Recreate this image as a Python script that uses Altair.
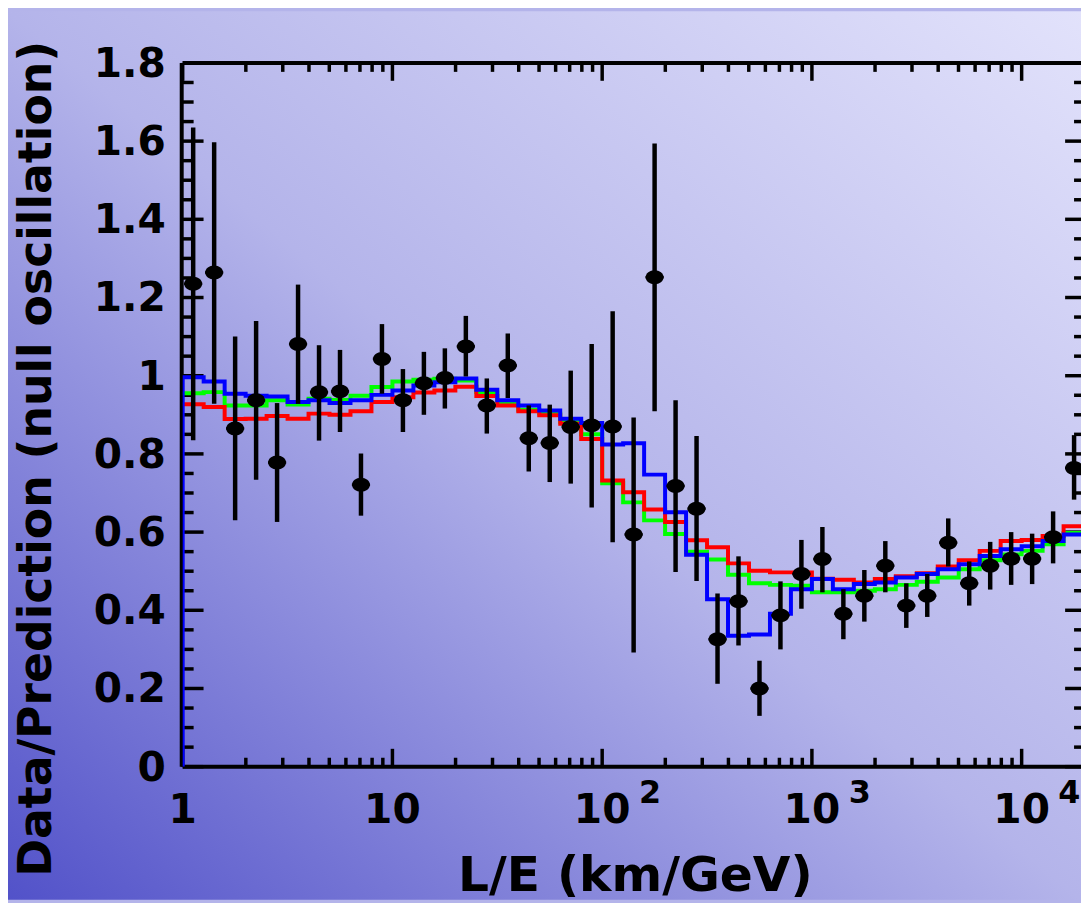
import altair as alt
import pandas as pd

# ---------------- data ----------------
bin_edges = [1, 1.2589, 1.5849, 1.9953, 2.5119, 3.1623, 3.9811, 5.0119, 6.3096, 7.9433,
             10, 12.589, 15.849, 19.953, 25.119, 31.623, 39.811, 50.119, 63.096, 79.433,
             100, 125.89, 158.49, 199.53, 251.19, 316.23, 398.11, 501.19, 630.96, 794.33,
             1000, 1258.9, 1584.9, 1995.3, 2511.9, 3162.3, 3981.1, 5011.9, 6309.6, 7943.3,
             10000, 12589, 15849, 19953]

data_val = [1.235, 1.264, 0.865, 0.937, 0.778, 1.081, 0.958, 0.960, 0.721, 1.043,
            0.937, 0.981, 0.994, 1.075, 0.924, 1.026, 0.840, 0.828, 0.869, 0.873,
            0.870, 0.594, 1.252, 0.718, 0.660, 0.326, 0.423, 0.200, 0.387, 0.493,
            0.531, 0.391, 0.437, 0.514, 0.412, 0.437, 0.573, 0.469, 0.514, 0.532,
            0.532, 0.587, 0.764]
err_lo = [0.835, 0.928, 0.630, 0.734, 0.626, 0.928, 0.834, 0.856, 0.642, 0.954,
          0.856, 0.900, 0.916, 0.998, 0.852, 0.943, 0.755, 0.728, 0.724, 0.663,
          0.574, 0.292, 0.909, 0.498, 0.475, 0.212, 0.310, 0.130, 0.300, 0.404,
          0.446, 0.326, 0.371, 0.446, 0.355, 0.383, 0.512, 0.412, 0.453, 0.465,
          0.467, 0.520, 0.683]
err_hi = [1.635, 1.597, 1.100, 1.140, 0.930, 1.233, 1.078, 1.066, 0.801, 1.132,
          1.017, 1.061, 1.070, 1.153, 0.993, 1.108, 0.924, 0.926, 1.013, 1.081,
          1.165, 0.893, 1.594, 0.937, 0.846, 0.443, 0.538, 0.271, 0.474, 0.580,
          0.613, 0.454, 0.503, 0.577, 0.469, 0.493, 0.635, 0.525, 0.575, 0.600,
          0.596, 0.653, 0.848]

green_vals = [0.955, 0.958, 0.924, 0.924, 0.937, 0.926, 0.941, 0.938, 0.949, 0.971,
              0.985, 0.990, 0.992, 0.988, 0.958, 0.930, 0.913, 0.903, 0.882, 0.850,
              0.725, 0.676, 0.630, 0.595, 0.550, 0.530, 0.491, 0.469, 0.465, 0.463,
              0.446, 0.446, 0.450, 0.454, 0.465, 0.473, 0.484, 0.505, 0.528, 0.543,
              0.552, 0.569, 0.598]
red_vals = [0.927, 0.920, 0.889, 0.890, 0.897, 0.890, 0.903, 0.900, 0.909, 0.933,
            0.945, 0.957, 0.962, 0.972, 0.948, 0.924, 0.909, 0.899, 0.877, 0.838,
            0.732, 0.702, 0.658, 0.626, 0.579, 0.561, 0.520, 0.501, 0.497, 0.497,
            0.481, 0.478, 0.471, 0.480, 0.487, 0.495, 0.512, 0.528, 0.552, 0.577,
            0.580, 0.590, 0.615]
blue_vals = [0.996, 0.985, 0.954, 0.949, 0.947, 0.933, 0.937, 0.930, 0.937, 0.951,
             0.962, 0.975, 0.983, 0.993, 0.964, 0.937, 0.924, 0.911, 0.890, 0.879,
             0.824, 0.827, 0.747, 0.651, 0.542, 0.428, 0.335, 0.338, 0.391, 0.454,
             0.480, 0.454, 0.467, 0.471, 0.484, 0.493, 0.505, 0.518, 0.539, 0.556,
             0.564, 0.577, 0.594]

x_major_ticks = [1, 10, 100, 1000, 10000]
x_tick_labels = ["1", "10", "10", "10", "10"]
x_minor_ticks = [2, 3, 4, 5, 6, 7, 8, 9,
                 20, 30, 40, 50, 60, 70, 80, 90,
                 200, 300, 400, 500, 600, 700, 800, 900,
                 2000, 3000, 4000, 5000, 6000, 7000, 8000, 9000]
y_major_ticks = [0, 0.2, 0.4, 0.6, 0.8, 1, 1.2, 1.4, 1.6, 1.8]
y_tick_labels = ["0", "0.2", "0.4", "0.6", "0.8", "1", "1.2", "1.4", "1.6", "1.8"]
y_minor_ticks = [0.05, 0.1, 0.15, 0.25, 0.3, 0.35, 0.45, 0.5, 0.55, 0.65, 0.7, 0.75,
                 0.85, 0.9, 0.95, 1.05, 1.1, 1.15, 1.25, 1.3, 1.35, 1.45, 1.5, 1.55,
                 1.65, 1.7, 1.75]
sup_positions = [100, 1000, 10000]
sup_labels = ["2", "3", "4"]

X_TITLE = "L/E (km/GeV)"
Y_TITLE = "Data/Prediction (null oscillation)"

# ---------------- tables ----------------
n = len(data_val)
centers = [(bin_edges[k] * bin_edges[k + 1]) ** 0.5 for k in range(n)]
pts = pd.DataFrame({
    "x": centers,
    "xlo": [c / 1.105 for c in centers],
    "xhi": [c * 1.105 for c in centers],
    "v": data_val, "lo": err_lo, "hi": err_hi,
})


def step_df(vals, from_zero=False):
    xs_ = list(bin_edges)
    ys_ = list(vals) + [vals[-1]]
    if from_zero:
        xs_ = [bin_edges[0]] + xs_
        ys_ = [0] + ys_
    return pd.DataFrame({"x": xs_, "y": ys_, "i": list(range(len(xs_)))})


FONT = "DejaVu Sans"
W, H = 905, 709
xs = alt.Scale(type="log", domain=[1, 19187], nice=False)
ys = alt.Scale(domain=[0, 1.8], nice=False, zero=False)

one = pd.DataFrame({"a": [0]})
xmaj = pd.DataFrame({"v": x_major_ticks, "t": x_tick_labels})
xmin = pd.DataFrame({"v": x_minor_ticks})
ymaj = pd.DataFrame({"v": y_major_ticks, "t": y_tick_labels})
ymin = pd.DataFrame({"v": y_minor_ticks})

grad = alt.Gradient(
    gradient="linear", x1=0, y1=1, x2=1, y2=0,
    stops=[alt.GradientStop(offset=0, color="#5252c9"),
           alt.GradientStop(offset=0.5, color="#b4b4ea"),
           alt.GradientStop(offset=1, color="#e2e2fb")])

bg = alt.Chart(one).mark_rect(color=grad).encode(
    x=alt.value(-176), x2=alt.value(W), y=alt.value(-52), y2=alt.value(H + 134))

frame_left = alt.Chart(one).mark_rule(color="black", strokeWidth=4).encode(
    x=alt.value(-1), y=alt.value(0), y2=alt.value(H))
frame_top = alt.Chart(one).mark_rule(color="black", strokeWidth=4).encode(
    x=alt.value(0), x2=alt.value(W), y=alt.value(0))
frame_bot = alt.Chart(one).mark_rule(color="black", strokeWidth=4).encode(
    x=alt.value(0), x2=alt.value(W), y=alt.value(H))


def yticks(df, x0, x1):
    return alt.Chart(df).mark_rule(color="black", strokeWidth=3.5).encode(
        y=alt.Y("v:Q", scale=ys, axis=None), x=alt.value(x0), x2=alt.value(x1))


def xticks(df, y0, y1):
    return alt.Chart(df).mark_rule(color="black", strokeWidth=3.5).encode(
        x=alt.X("v:Q", scale=xs, axis=None), y=alt.value(y0), y2=alt.value(y1))


tick_layers = [
    yticks(ymaj, 0, 21), yticks(ymin, 0, 11),
    yticks(ymaj, W - 16, W), yticks(ymin, W - 7, W),
    xticks(xmaj, H - 18, H), xticks(xmin, H - 9, H),
    xticks(xmaj, 0, 18), xticks(xmin, 0, 9),
]

text_style = dict(font=FONT, fontWeight="bold", color="black")

y_labels = alt.Chart(ymaj).mark_text(
    align="right", baseline="middle", fontSize=41, dy=2, **text_style
).encode(y=alt.Y("v:Q", scale=ys, axis=None), x=alt.value(-17), text="t:N")

x_labels = alt.Chart(xmaj).mark_text(
    align="center", baseline="top", fontSize=41, **text_style
).encode(x=alt.X("v:Q", scale=xs, axis=None), y=alt.value(H + 25), text="t:N")

sup = alt.Chart(pd.DataFrame({"v": sup_positions, "t": sup_labels})).mark_text(
    align="left", baseline="alphabetic", dx=37, fontSize=32, **text_style
).encode(x=alt.X("v:Q", scale=xs, axis=None), y=alt.value(H + 37), text="t:N")

x_title = alt.Chart(pd.DataFrame({"t": [X_TITLE]})).mark_text(
    align="center", baseline="alphabetic", fontSize=49, **text_style
).encode(x=alt.value(456), y=alt.value(H + 125), text="t:N")

y_title = alt.Chart(pd.DataFrame({"t": [Y_TITLE]})).mark_text(
    align="left", baseline="alphabetic", angle=270, fontSize=46, **text_style
).encode(x=alt.value(-133), y=alt.value(820), text="t:N")


def step_line(df, color):
    return alt.Chart(df).mark_line(
        interpolate="step-after", strokeWidth=4, color=color, clip=True
    ).encode(
        x=alt.X("x:Q", scale=xs, axis=None),
        y=alt.Y("y:Q", scale=ys, axis=None),
        order="i:Q")


green = step_line(step_df(green_vals), "#00ff00")
red = step_line(step_df(red_vals), "#ff0000")
blue = step_line(step_df(blue_vals, from_zero=True), "#0000ff")

yerr = alt.Chart(pts).mark_rule(color="black", strokeWidth=4.5).encode(
    x=alt.X("x:Q", scale=xs, axis=None),
    y=alt.Y("lo:Q", scale=ys, axis=None), y2="hi:Q")
xerr = alt.Chart(pts).mark_rule(color="black", strokeWidth=2.5).encode(
    x=alt.X("xlo:Q", scale=xs, axis=None), x2="xhi:Q",
    y=alt.Y("v:Q", scale=ys, axis=None))

ellipse = "M-1,0A1,0.78,0,1,1,1,0A1,0.78,0,1,1,-1,0Z"
points = alt.Chart(pts).mark_point(
    shape=ellipse, size=324, filled=True, color="black", opacity=1
).encode(
    x=alt.X("x:Q", scale=xs, axis=None),
    y=alt.Y("v:Q", scale=ys, axis=None))

chart = alt.layer(
    bg, frame_left, frame_top, frame_bot, *tick_layers,
    green, red, blue, yerr, xerr, points,
    y_labels, x_labels, sup, x_title, y_title
).properties(
    width=W, height=H,
    autosize=alt.AutoSizeParams(type="none"),
    padding={"left": 176, "top": 52, "right": 0, "bottom": 134},
    background="#b4b4ea",
).configure_view(stroke="transparent")

chart.save("out.html", embed_options={"renderer": "svg", "actions": False})
